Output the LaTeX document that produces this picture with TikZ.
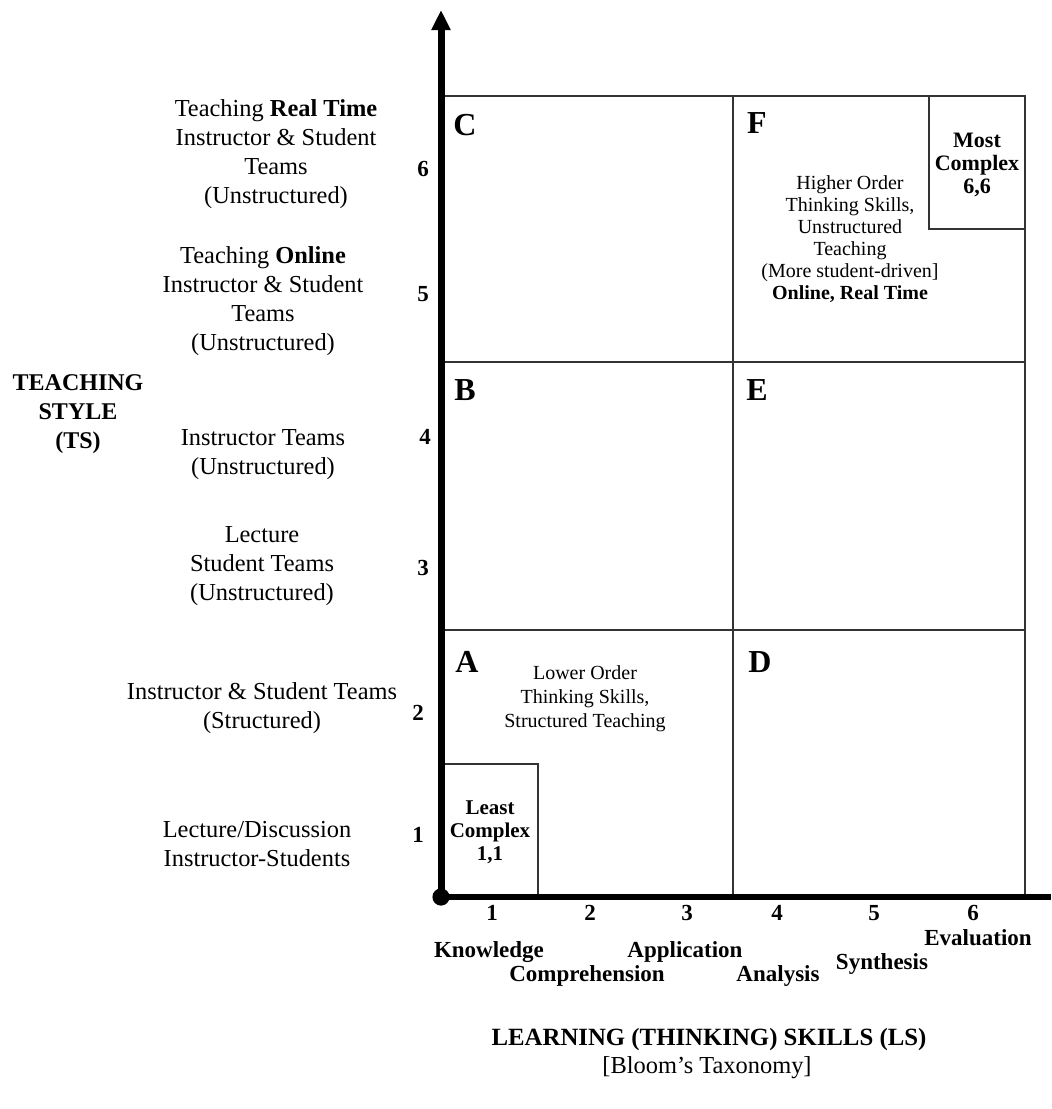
\documentclass[tikz,border=0pt]{standalone}
\usepackage{fontspec}
\setmainfont{Liberation Serif}
\usetikzlibrary{arrows.meta}
\begin{document}
\begin{tikzpicture}[x=0.5pt,y=-0.5pt,
  gridline/.style={draw=black!80, line width=0.7pt},
  styletext/.style={align=center, inner sep=0pt, font=\fontsize{12.2}{14.5}\selectfont},
  levelnum/.style={inner sep=0pt, font=\fontsize{11.5}{12}\selectfont\bfseries},
  skill/.style={inner sep=0pt, anchor=base, font=\fontsize{11.5}{13}\selectfont\bfseries},
  cellletter/.style={inner sep=0pt, font=\fontsize{16}{18}\selectfont\bfseries},
  celltext/.style={align=center, inner sep=0pt, font=\fontsize{10}{12}\selectfont},
  cornertext/.style={align=center, inner sep=0pt, font=\fontsize{10.5}{11.5}\selectfont\bfseries},
]
\useasboundingbox (0,0) rectangle (1051,1109);

% axis end points
\coordinate (origin) at (441,897);
\coordinate (ytop) at (441,10);
\coordinate (xend) at (1051,897);

% grid of the six cells
\draw[gridline] (441,96) -- (1025,96) -- (1025,897);
\draw[gridline] (733,96) -- (733,897);
\draw[gridline] (441,362) -- (1025,362);
\draw[gridline] (441,630) -- (1025,630);
% corner boxes
\draw[gridline] (929,96) rectangle (1025,229);
\draw[gridline] (441,764) rectangle (538,897);

% axes
\draw[line width=2.8pt] (origin) -- (xend);
\draw[line width=3.5pt, -{Triangle[length=10pt,width=9pt]}] (origin) -- (ytop);
\fill (origin) circle[radius=4.3pt];

% cell letters
\node[cellletter] (cC) at (465,125) {C};
\node[cellletter] (cF) at (757,123) {F};
\node[cellletter] (cB) at (465,390) {B};
\node[cellletter] (cE) at (757,390) {E};
\node[cellletter] (cA) at (467,662) {A};
\node[cellletter] (cD) at (760,662) {D};

% cell descriptions
\node[celltext, font=\fontsize{10}{12}\selectfont] (lower) at (585,699) {Lower Order\\Thinking Skills,\\Structured Teaching};
\node[celltext, font=\fontsize{10}{11}\selectfont] (higher) at (850,239) {Higher Order\\Thinking Skills,\\Unstructured\\Teaching\\(More student-driven]\\\textbf{Online, Real Time}};
\node[cornertext, font=\fontsize{11}{11.5}\selectfont\bfseries] (most) at (977,165) {Most\\Complex\\6,6};
\node[cornertext] (least) at (490,832) {Least\\Complex\\1,1};

% teaching style levels
\node[levelnum] (t6) at (423,169) {6};
\node[levelnum] (t5) at (423,294) {5};
\node[levelnum] (t4) at (425,437) {4};
\node[levelnum] (t3) at (423,568) {3};
\node[levelnum] (t2) at (418,713) {2};
\node[levelnum] (t1) at (418,835) {1};

\node[styletext] (s6) at (276,154) {Teaching \textbf{Real Time}\\Instructor \& Student\\Teams\\(Unstructured)};
\node[styletext] (s5) at (263,301) {Teaching \textbf{Online}\\Instructor \& Student\\Teams\\(Unstructured)};
\node[styletext] (s4) at (263,455) {Instructor Teams\\(Unstructured)};
\node[styletext] (s3) at (262,566) {Lecture\\Student Teams\\(Unstructured)};
\node[styletext] (s2) at (262,708) {Instructor \& Student Teams\\(Structured)};
\node[styletext] (s1) at (257,844) {Lecture/Discussion\\Instructor-Students};

\node[styletext, font=\fontsize{12}{14.5}\selectfont\bfseries] (tstitle) at (78,414) {TEACHING\\STYLE\\(TS)};

% learning skill levels
\node[levelnum] (l1) at (492,913) {1};
\node[levelnum] (l2) at (590,913) {2};
\node[levelnum] (l3) at (687,913) {3};
\node[levelnum] (l4) at (777,913) {4};
\node[levelnum] (l5) at (874,913) {5};
\node[levelnum] (l6) at (973,913) {6};

\node[skill] (knowledge) at (489,957) {Knowledge};
\node[skill] (comprehension) at (587,981) {Comprehension};
\node[skill] (application) at (685,957) {Application};
\node[skill] (analysis) at (778,981) {Analysis};
\node[skill] (synthesis) at (882,969) {Synthesis};
\node[skill] (evaluation) at (978,945) {Evaluation};

\node[inner sep=0pt, font=\fontsize{12.4}{13}\selectfont\bfseries] (lstitle) at (709,1040) {LEARNING (THINKING) SKILLS (LS)};
\node[inner sep=0pt, font=\fontsize{12.2}{13}\selectfont] (bloom) at (707,1068) {[Bloom’s Taxonomy]};
\end{tikzpicture}
\end{document}
